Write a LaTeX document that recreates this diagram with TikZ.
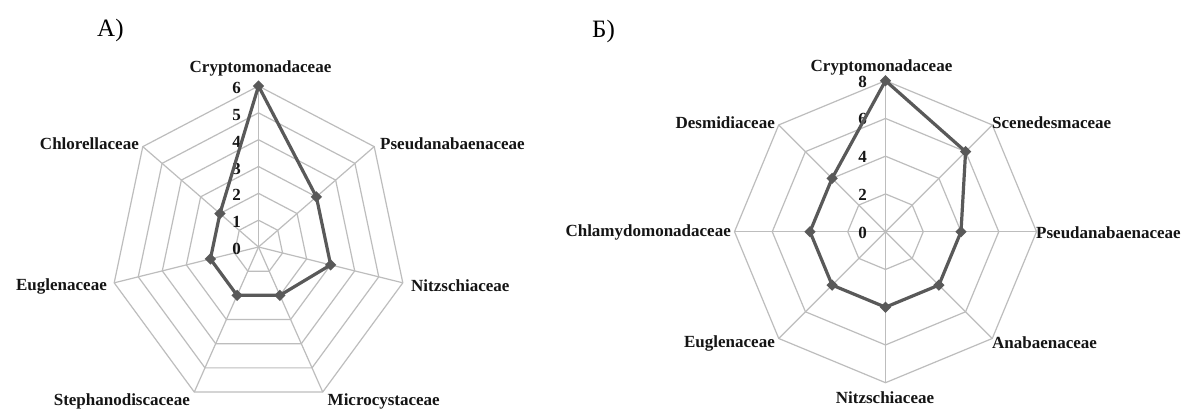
\documentclass[tikz,border=0pt]{standalone}
\usepackage{fontspec}
\setmainfont{Liberation Serif}
\usetikzlibrary{shapes.geometric}
\definecolor{gridc}{HTML}{BDBDBD}
\definecolor{datac}{HTML}{595959}
\definecolor{textc}{HTML}{151515}
\begin{document}
\begin{tikzpicture}[x=1pt,y=-1pt,
  gridline/.style={draw=gridc, line width=1.2pt},
  dataline/.style={draw=datac, line width=3.2pt, line join=round},
  marker/.style={diamond, fill=datac, inner sep=0pt, minimum size=11.5pt},
  cat/.style={font=\bfseries\fontsize{17}{17}\selectfont, text=textc, inner sep=0pt},
  tick/.style={font=\bfseries\fontsize{17}{17}\selectfont, text=textc, inner sep=0pt},
  panel/.style={font=\fontsize{25}{25}\selectfont, text=black, inner sep=0pt, anchor=base west}]
\useasboundingbox (0,0) rectangle (1185,409);
\fill[white] (0,0) rectangle (1185,409);

% panel titles
\node[panel] (tA) at (97,37) {А)};
\node[panel] (tB) at (592,37.5) {Б)};

% ---------- left chart (7 axes) ----------
\begin{scope}[shift={(258.5,247)}, x=24.67pt, y=26.83pt]
  \foreach \r in {1,...,6}
    \draw[gridline] (90:\r) \foreach \k in {1,...,6} { -- ({90-\k*360/7}:\r) } -- cycle;
  \foreach \k in {0,...,6}
    \draw[gridline] (0,0) -- ({90-\k*360/7}:6);
  \foreach \v [count=\k from 0] in {6,3,3,2,2,2,2}
    \coordinate (La\k) at ({90-\k*360/7}:\v);
\end{scope}
\foreach \v in {0,...,6}
  \node[tick] (lt\v) at (236.5,{249-\v*26.83}) {\v};
\draw[dataline] (La0) -- (La1) -- (La2) -- (La3) -- (La4) -- (La5) -- (La6) -- cycle;
\foreach \k in {0,...,6} \node[marker] (lm\k) at (La\k) {};

\node[cat] (lCry) at (260.5,68.5) {Cryptomonadaceae};
\node[cat, anchor=west] (lPse) at (380,144) {Pseudanabaenaceae};
\node[cat, anchor=west] (lNit) at (411,286) {Nitzschiaceae};
\node[cat, anchor=west] (lMic) at (327.5,401) {Microcystaceae};
\node[cat, anchor=east] (lSte) at (190,401) {Stephanodiscaceae};
\node[cat, anchor=east] (lEug) at (107,286) {Euglenaceae};
\node[cat, anchor=east] (lChl) at (139,144) {Chlorellaceae};

% ---------- right chart (8 axes) ----------
\begin{scope}[shift={(885.5,231.7)}, x=18.875pt, y=18.875pt]
  \foreach \r in {2,4,6,8}
    \draw[gridline] (90:\r) \foreach \k in {1,...,7} { -- ({90-\k*45}:\r) } -- cycle;
  \foreach \k in {0,...,7}
    \draw[gridline] (0,0) -- ({90-\k*45}:8);
  \foreach \v [count=\k from 0] in {8,6,4,4,4,4,4,4}
    \coordinate (Rb\k) at ({90-\k*45}:\v);
\end{scope}
\foreach \v [count=\i from 0] in {0,2,4,6,8}
  \node[tick] (rt\v) at (862.7,{232.5-\i*37.75}) {\v};
\draw[dataline] (Rb0) -- (Rb1) -- (Rb2) -- (Rb3) -- (Rb4) -- (Rb5) -- (Rb6) -- (Rb7) -- cycle;
\foreach \k in {0,...,7} \node[marker] (rm\k) at (Rb\k) {};

\node[cat] (rCry) at (881.5,67.5) {Cryptomonadaceae};
\node[cat, anchor=west] (rSce) at (992,123) {Scenedesmaceae};
\node[cat, anchor=west] (rPse) at (1036,232.7) {Pseudanabaenaceae};
\node[cat, anchor=west] (rAna) at (992,343) {Anabaenaceae};
\node[cat] (rNit) at (885,398) {Nitzschiaceae};
\node[cat, anchor=east] (rEug) at (775,343) {Euglenaceae};
\node[cat, anchor=east] (rChl) at (731,232.7) {Chlamydomonadaceae};
\node[cat, anchor=east] (rDes) at (775,123) {Desmidiaceae};
\end{tikzpicture}
\end{document}
